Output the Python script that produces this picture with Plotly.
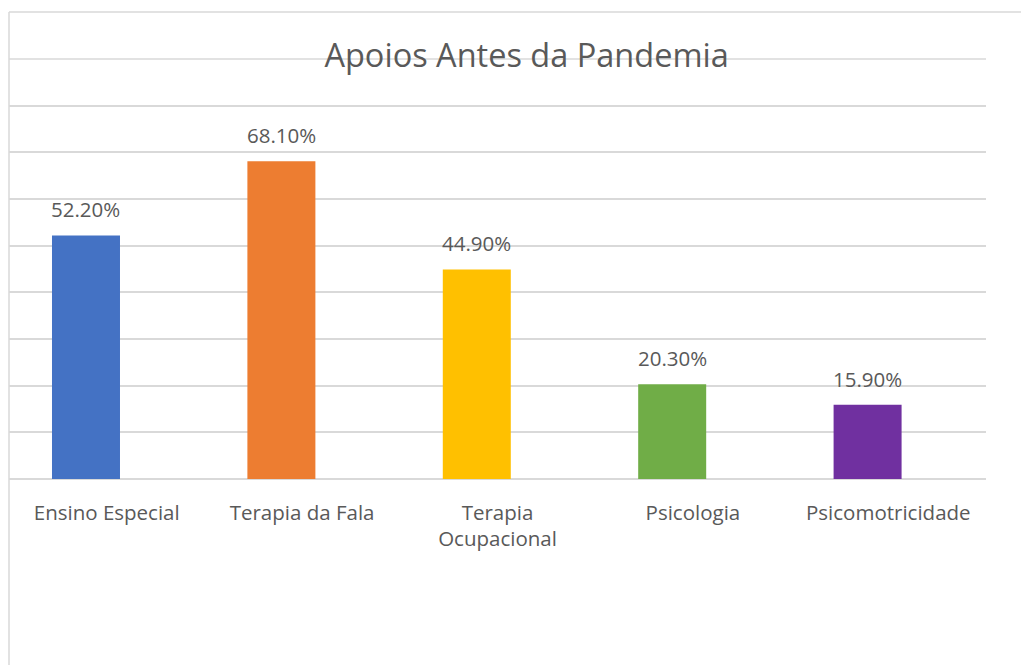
import plotly.graph_objects as go

# Data
categories = ["Ensino Especial", "Terapia da Fala", "Terapia<br>Ocupacional",
              "Psicologia", "Psicomotricidade"]
values = [52.2, 68.1, 44.9, 20.3, 15.9]
labels = [f"{v:.2f}%" for v in values]
colors = ["#4472C4", "#ED7D31", "#FFC000", "#70AD47", "#7030A0"]
y_max = 90

text_grey = "#595959"
grid_grey = "#D9D9D9"
font_family = "Open Sans, Noto Sans, sans-serif"

bar_width = 0.348
bar_offset = -0.28

fig = go.Figure()

fig.add_trace(go.Bar(
    x=categories,
    y=values,
    marker=dict(color=colors, line=dict(width=0)),
    width=bar_width,
    offset=bar_offset,
    hoverinfo="skip",
))

# value labels above the bars
for i, (cat, v, lab) in enumerate(zip(categories, values, labels)):
    fig.add_annotation(
        x=i + bar_offset + bar_width / 2, xref="x",
        y=v, yref="y",
        text=lab, showarrow=False,
        xanchor="center", yanchor="bottom",
        yshift=10,
        font=dict(size=20.5, color=text_grey, family=font_family),
    )

# top gridline (plotly skips the one sitting on the plot edge)
fig.add_shape(type="line", xref="paper", yref="paper",
              x0=0, x1=1, y0=1, y1=1,
              line=dict(color=grid_grey, width=1.5), layer="below")

# chart-area border (top and left edges visible in the reference)
fig.add_shape(type="line", xref="paper", yref="paper",
              x0=0, x1=1.1, y0=1.112, y1=1.112,
              line=dict(color=grid_grey, width=1.5))
fig.add_shape(type="line", xref="paper", yref="paper",
              x0=0, x1=0, y0=1.112, y1=-0.5,
              line=dict(color=grid_grey, width=1.5))

fig.update_layout(
    width=1029,
    height=665,
    margin=dict(l=1, r=51, t=51, b=194),
    paper_bgcolor="white",
    plot_bgcolor="white",
    showlegend=False,
    font=dict(family=font_family, color=text_grey),
    title=dict(
        text="Apoios Antes da Pandemia",
        x=0.504, xref="container", xanchor="center",
        y=0.929, yref="container", yanchor="middle",
        font=dict(size=32.5, color=text_grey, family=font_family),
    ),
    xaxis=dict(
        showgrid=False,
        showline=False,
        ticks="",
        tickfont=dict(size=20.5, color=text_grey, family=font_family),
        ticklabelstandoff=19,
    ),
    yaxis=dict(
        range=[0, y_max],
        dtick=10,
        showticklabels=False,
        showgrid=True,
        gridcolor=grid_grey,
        gridwidth=1.5,
        zeroline=True,
        zerolinecolor=grid_grey,
        zerolinewidth=1.5,
        showline=False,
    ),
)

fig.write_html("out.html")
